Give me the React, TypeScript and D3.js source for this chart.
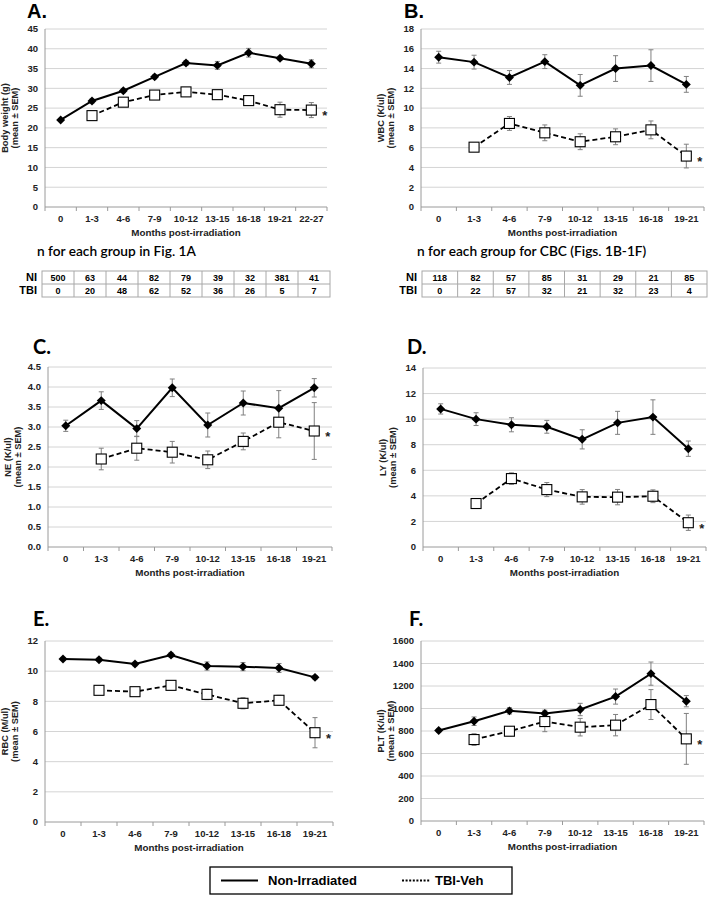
import React from 'react';
import * as d3 from 'd3';

// months post-irradiation
const monthsA = ['0', '1-3', '4-6', '7-9', '10-12', '13-15', '16-18', '19-21', '22-27'];
const monthsCBC = ['0', '1-3', '4-6', '7-9', '10-12', '13-15', '16-18', '19-21'];

// A. body weight (g)
const weightNI = [22.0, 26.8, 29.4, 32.9, 36.4, 35.8, 39.0, 37.6, 36.2];
const weightNIErr = [0.3, 0.5, 0.5, 0.5, 0.6, 1.0, 1.1, 0.5, 1.0];
const weightTBI = [null, 23.1, 26.5, 28.3, 29.1, 28.4, 26.9, 24.6, 24.5];
const weightTBIErr = [0, 0.4, 0.5, 0.5, 0.5, 0.5, 0.5, 1.9, 1.9];

// B. WBC (K/ul)
const wbcNI = [15.15, 14.65, 13.1, 14.7, 12.3, 14.0, 14.3, 12.4];
const wbcNIErr = [0.6, 0.7, 0.7, 0.7, 1.1, 1.3, 1.6, 0.8];
const wbcTBI = [null, 6.05, 8.45, 7.5, 6.6, 7.1, 7.8, 5.15];
const wbcTBIErr = [0, 0.2, 0.7, 0.8, 0.8, 0.8, 0.9, 1.2];

// C. NE (K/ul)
const neNI = [3.03, 3.66, 2.96, 3.98, 3.05, 3.6, 3.47, 3.98];
const neNIErr = [0.14, 0.22, 0.2, 0.22, 0.3, 0.3, 0.44, 0.23];
const neTBI = [null, 2.2, 2.47, 2.37, 2.18, 2.64, 3.12, 2.9];
const neTBIErr = [0, 0.27, 0.3, 0.27, 0.22, 0.21, 0.39, 0.71];

// D. LY (K/ul)
const lyNI = [10.8, 10.0, 9.56, 9.4, 8.42, 9.71, 10.16, 7.69];
const lyNIErr = [0.4, 0.5, 0.55, 0.5, 0.75, 0.9, 1.35, 0.6];
const lyTBI = [null, 3.4, 5.35, 4.49, 3.92, 3.9, 3.97, 1.9];
const lyTBIErr = [0, 0.35, 0.45, 0.55, 0.57, 0.6, 0.5, 0.6];

// E. RBC (M/ul)
const rbcNI = [10.81, 10.76, 10.47, 11.07, 10.34, 10.3, 10.21, 9.59];
const rbcNIErr = [0.1, 0.12, 0.12, 0.15, 0.27, 0.27, 0.3, 0.12];
const rbcTBI = [null, 8.73, 8.64, 9.06, 8.46, 7.87, 8.07, 5.92];
const rbcTBIErr = [0, 0.15, 0.15, 0.15, 0.35, 0.37, 0.33, 1.0];

// F. PLT (K/ul)
const pltNI = [804, 887, 979, 955, 991, 1106, 1310, 1065];
const pltNIErr = [15, 38, 28, 30, 55, 67, 103, 50];
const pltTBI = [null, 724, 798, 884, 834, 852, 1035, 730];
const pltTBIErr = [0, 52, 40, 90, 78, 95, 133, 226];

// n per group
const nA_NI = [500, 63, 44, 82, 79, 39, 32, 381, 41];
const nA_TBI = [0, 20, 48, 62, 52, 36, 26, 5, 7];
const nCBC_NI = [118, 82, 57, 85, 31, 29, 21, 85];
const nCBC_TBI = [0, 22, 57, 32, 21, 32, 23, 4];

const ARIAL = 'Liberation Sans, Arial, sans-serif';
const CALIBRI = 'Lato, Open Sans, sans-serif';

function Panel({ letter, letterX, letterY, letterFont, box, cats, yMax, yStep, yFmt, yLabel, ni, niErr, tbi, tbiErr }: any) {
  const { left, right, top, bottom } = box;
  const x = d3.scaleBand<string>().domain(cats).range([left, right]).padding(0);
  const y = d3.scaleLinear().domain([0, yMax]).range([bottom, top]);
  const ticks = d3.range(0, yMax + yStep / 2, yStep);
  const cx = (c: string) => (x(c) as number) + x.bandwidth() / 2;
  const niPts = cats.map((c: string, i: number) => ({ c, v: ni[i], e: niErr[i] }));
  const tbiPts = cats.map((c: string, i: number) => ({ c, v: tbi[i], e: tbiErr[i] })).filter((d: any) => d.v != null);
  const line = d3.line<any>().x(d => cx(d.c)).y(d => y(d.v));
  const diamond = d3.symbol(d3.symbolSquare, 40)();
  const midY = (top + bottom) / 2;
  const last = tbiPts[tbiPts.length - 1];

  const errBar = (d: any, key: string) => {
    const px = cx(d.c);
    return (
      <g key={key} stroke="#808080" strokeWidth={1}>
        <line x1={px} x2={px} y1={y(d.v - d.e)} y2={y(d.v + d.e)} />
        <line x1={px - 2.5} x2={px + 2.5} y1={y(d.v - d.e)} y2={y(d.v - d.e)} />
        <line x1={px - 2.5} x2={px + 2.5} y1={y(d.v + d.e)} y2={y(d.v + d.e)} />
      </g>
    );
  };

  return (
    <g>
      <text x={letterX} y={letterY} fontFamily={letterFont} fontWeight="bold" fontSize={20} fill="#000">{letter}</text>
      {ticks.map(t => (
        <g key={'g' + t}>
          <line x1={left} x2={right} y1={y(t)} y2={y(t)} stroke={t === 0 ? '#9a9a9a' : '#d4d4d4'} strokeWidth={1} />
          <text x={left - 7} y={y(t)} dy="0.35em" textAnchor="end" fontFamily={ARIAL} fontWeight="bold" fontSize={9.5} fill="#222">{d3.format(yFmt)(t)}</text>
        </g>
      ))}
      <line x1={left} x2={left} y1={top} y2={bottom} stroke="#9a9a9a" strokeWidth={1} />
      {cats.map((c: string) => (
        <g key={'x' + c}>
          <line x1={(x(c) as number) + x.bandwidth()} x2={(x(c) as number) + x.bandwidth()} y1={bottom} y2={bottom + 4} stroke="#9a9a9a" />
          <text x={cx(c)} y={bottom + 12} dy="0.35em" textAnchor="middle" fontFamily={ARIAL} fontWeight="bold" fontSize={9.5} fill="#222">{c}</text>
        </g>
      ))}
      <line x1={left} x2={left} y1={bottom} y2={bottom + 4} stroke="#9a9a9a" />
      <text x={(left + right) / 2} y={bottom + 26} dy="0.35em" textAnchor="middle" fontFamily={ARIAL} fontWeight="bold" fontSize={9.8} fill="#222">Months post-irradiation</text>
      <g transform={`translate(${left - 40},${midY}) rotate(-90)`}>
        <text textAnchor="middle" dy="0.35em" fontFamily={ARIAL} fontWeight="bold" fontSize={9.3} fill="#222">{yLabel}</text>
        <text y={10} textAnchor="middle" dy="0.35em" fontFamily={ARIAL} fontWeight="bold" fontSize={9.3} fill="#222">(mean ± SEM)</text>
      </g>
      {niPts.map((d: any, i: number) => errBar(d, 'ne' + i))}
      {tbiPts.map((d: any, i: number) => errBar(d, 'te' + i))}
      <path d={line(niPts) as string} fill="none" stroke="#000" strokeWidth={2} />
      <path d={line(tbiPts) as string} fill="none" stroke="#000" strokeWidth={1.8} strokeDasharray="5,3" />
      {niPts.map((d: any, i: number) => (
        <path key={'nm' + i} d={diamond as string} transform={`translate(${cx(d.c)},${y(d.v)}) rotate(45)`} fill="#000" />
      ))}
      {tbiPts.map((d: any, i: number) => (
        <rect key={'tm' + i} x={cx(d.c) - 5} y={y(d.v) - 5} width={10} height={10} fill="#fff" stroke="#000" strokeWidth={1.1} />
      ))}
      <text x={cx(last.c) + 11} y={y(last.v) + 10} fontFamily={ARIAL} fontWeight="bold" fontSize={13} fill="#222">*</text>
    </g>
  );
}

function NTable({ title, titleX, left, right, top, ni, tbi }: any) {
  const cols = d3.range(ni.length).map(String);
  const x = d3.scaleBand<string>().domain(cols).range([left, right]);
  const rowH = 13;
  return (
    <g>
      <text x={titleX} y={top - 15} fontFamily={CALIBRI} fontSize={13.7} fontWeight={600} fill="#000">{title}</text>
      <rect x={left} y={top} width={right - left} height={rowH * 2} fill="none" stroke="#a8a8a8" />
      <line x1={left} x2={right} y1={top + rowH} y2={top + rowH} stroke="#a8a8a8" />
      {cols.map((c, i) => i > 0 ? <line key={'c' + c} x1={x(c)} x2={x(c)} y1={top} y2={top + rowH * 2} stroke="#a8a8a8" /> : null)}
      {[ni, tbi].map((row: number[], r: number) => (
        <g key={'r' + r}>
          <text x={left - 5} y={top + rowH * r + rowH / 2} dy="0.35em" textAnchor="end" fontFamily={ARIAL} fontWeight="bold" fontSize={11} fill="#000">{r === 0 ? 'NI' : 'TBI'}</text>
          {row.map((v, i) => (
            <text key={i} x={(x(String(i)) as number) + x.bandwidth() / 2} y={top + rowH * r + rowH / 2} dy="0.35em" textAnchor="middle" fontFamily={ARIAL} fontWeight="bold" fontSize={9} fill="#000">{v}</text>
          ))}
        </g>
      ))}
    </g>
  );
}

export default function App() {
  return (
    <svg width={708} height={900} style={{ position: 'absolute', left: 0, top: 0, background: '#fff' }}>
      <rect width={708} height={900} fill="#fff" />
      <Panel letter="A." letterX={27} letterY={18} letterFont={ARIAL} box={{ left: 45, right: 327, top: 29, bottom: 207 }}
        cats={monthsA} yMax={45} yStep={5} yFmt="d" yLabel="Body weight (g)" ni={weightNI} niErr={weightNIErr} tbi={weightTBI} tbiErr={weightTBIErr} />
      <Panel letter="B." letterX={404} letterY={18} letterFont={ARIAL} box={{ left: 421, right: 704, top: 29, bottom: 207 }}
        cats={monthsCBC} yMax={18} yStep={2} yFmt="d" yLabel="WBC (K/ul)" ni={wbcNI} niErr={wbcNIErr} tbi={wbcTBI} tbiErr={wbcTBIErr} />
      <NTable title="n for each group in Fig. 1A" titleX={37} left={42} right={330} top={271} ni={nA_NI} tbi={nA_TBI} />
      <NTable title="n for each group for CBC (Figs. 1B-1F)" titleX={417} left={422} right={707} top={271} ni={nCBC_NI} tbi={nCBC_TBI} />
      <Panel letter="C." letterX={33} letterY={354} letterFont={CALIBRI} box={{ left: 48, right: 332, top: 367, bottom: 547 }}
        cats={monthsCBC} yMax={4.5} yStep={0.5} yFmt=".1f" yLabel="NE (K/ul)" ni={neNI} niErr={neNIErr} tbi={neTBI} tbiErr={neTBIErr} />
      <Panel letter="D." letterX={407} letterY={354} letterFont={CALIBRI} box={{ left: 423, right: 706, top: 368, bottom: 547 }}
        cats={monthsCBC} yMax={14} yStep={2} yFmt="d" yLabel="LY (K/ul)" ni={lyNI} niErr={lyNIErr} tbi={lyTBI} tbiErr={lyTBIErr} />
      <Panel letter="E." letterX={33} letterY={626} letterFont={CALIBRI} box={{ left: 45, right: 333, top: 641, bottom: 822 }}
        cats={monthsCBC} yMax={12} yStep={2} yFmt="d" yLabel="RBC (M/ul)" ni={rbcNI} niErr={rbcNIErr} tbi={rbcTBI} tbiErr={rbcTBIErr} />
      <Panel letter="F." letterX={409} letterY={626} letterFont={CALIBRI} box={{ left: 421, right: 704, top: 641, bottom: 821 }}
        cats={monthsCBC} yMax={1600} yStep={200} yFmt="d" yLabel="PLT (K/ul)" ni={pltNI} niErr={pltNIErr} tbi={pltTBI} tbiErr={pltTBIErr} />
      <g>
        <rect x={210} y={867} width={302} height={27} fill="#fff" stroke="#000" strokeWidth={1.3} />
        <line x1={221} x2={258} y1={880.5} y2={880.5} stroke="#000" strokeWidth={2} />
        <text x={268} y={880.5} dy="0.35em" fontFamily={ARIAL} fontWeight="bold" fontSize={13} fill="#000">Non-Irradiated</text>
        <line x1={402} x2={430} y1={880.5} y2={880.5} stroke="#000" strokeWidth={2} strokeDasharray="2,1.6" />
        <text x={435} y={880.5} dy="0.35em" fontFamily={ARIAL} fontWeight="bold" fontSize={13} fill="#000">TBI-Veh</text>
      </g>
    </svg>
  );
}
